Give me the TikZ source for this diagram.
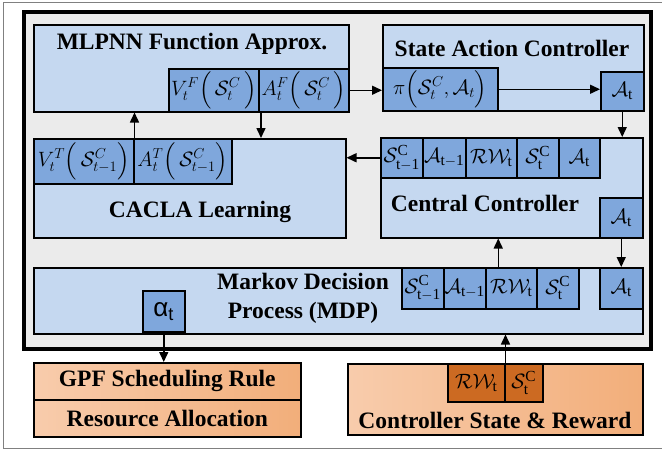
\documentclass[tikz,border=0pt]{standalone}
\usepackage{amsmath}
\usepackage{fontspec}
\setmainfont{Liberation Serif}
\newfontfamily\greeksans{Liberation Sans}
\usetikzlibrary{arrows.meta}

\definecolor{panelblue}{HTML}{C5D8F0}
\definecolor{cellblue}{HTML}{7FA7DC}
\definecolor{framegray}{HTML}{EBEBEB}
\definecolor{orangelt}{HTML}{F8CCAC}
\definecolor{orangedk}{HTML}{F2AE7A}
\definecolor{cellorange}{HTML}{CC6A22}

\tikzset{
  panel/.style={draw, line width=1.5pt, fill=panelblue, inner sep=0pt, anchor=north west},
  cell/.style={draw, line width=1.5pt, fill=cellblue, inner sep=0pt, anchor=north west, font=\fontsize{22}{24}\selectfont},
  ocell/.style={cell, fill=cellorange},
  opanel/.style={draw, line width=1.5pt, left color=orangelt, right color=orangedk, inner sep=0pt, anchor=north west, font=\bfseries\fontsize{23.5}{26}\selectfont},
  title/.style={font=\bfseries\fontsize{23.5}{29}\selectfont, align=center},
  arr/.style={line width=1.5pt, -{Stealth[length=10pt,width=9pt,inset=0pt]}},
}

\begin{document}
\begin{tikzpicture}[x=1pt, y=-1pt]
    \useasboundingbox (0,0) rectangle (662,451);
    % frames
    \draw[gray, line width=0.8pt] (3,2) rectangle (668,448);
    \draw[line width=3.5pt, fill=framegray] (24,12) rectangle (651,349);

    % MLPNN
    \node[panel, minimum width=315pt, minimum height=87pt] (mlp) at (33,24) {};
    \node[title] (mlplbl) at (192,44) {MLPNN Function Approx.};
    \node[cell, minimum width=90pt, minimum height=43pt] (vF) at (168,68) {$V_t^{F}\Big(\,\mathcal{S}_t^{C}\,\Big)$};
    \node[cell, minimum width=90pt, minimum height=43pt] (aF) at (258,68) {$A_t^{F}\Big(\,\mathcal{S}_t^{C}\,\Big)$};

    % state action controller
    \node[panel, minimum width=261pt, minimum height=86pt] (sac) at (382,24) {};
    \node[title] (saclbl) at (512,48) {State Action Controller};
    \node[cell, minimum width=115pt, minimum height=43pt] (pi) at (382,67) {$\pi\Big(\mathcal{S}_t^{C},\mathcal{A}_t\Big)$};
    \node[cell, minimum width=43pt, minimum height=39pt] (at1) at (600,71) {$\mathcal{A}_{\mathrm{t}}$};

    % central controller
    \node[panel, minimum width=262pt, minimum height=100pt] (cen) at (380,137) {};
    \node[title] (cenlbl) at (485,203) {Central Controller};
    \node[cell, minimum width=42pt, minimum height=40pt] (cs1) at (380,137) {$\mathcal{S}^{\mathrm{C}}_{\mathrm{t-1}}$};
    \node[cell, minimum width=43pt, minimum height=40pt] (ca1) at (422,137) {$\mathcal{A}_{\mathrm{t-1}}$};
    \node[cell, minimum width=51pt, minimum height=40pt] (crw) at (465,137) {$\mathcal{RW}_{\!\mathrm{t}}$};
    \node[cell, minimum width=42pt, minimum height=40pt] (cs2) at (516,137) {$\mathcal{S}^{\mathrm{C}}_{\mathrm{t}}$};
    \node[cell, minimum width=41pt, minimum height=40pt] (ca2) at (558,137) {$\mathcal{A}_{\mathrm{t}}$};
    \node[cell, minimum width=43pt, minimum height=40pt] (at2) at (599,197) {$\mathcal{A}_{\mathrm{t}}$};

    % CACLA
    \node[panel, minimum width=312pt, minimum height=99pt] (cacla) at (33,138) {};
    \node[title] (caclalbl) at (200,212) {CACLA Learning};
    \node[cell, minimum width=100pt, minimum height=45pt] (vT) at (33,138) {$V_t^{T}\Big(\,\mathcal{S}_{t-1}^{C}\Big)$};
    \node[cell, minimum width=98pt, minimum height=45pt] (aT) at (133,138) {$A_t^{T}\Big(\,\mathcal{S}_{t-1}^{C}\Big)$};

    % MDP
    \node[panel, minimum width=609pt, minimum height=66pt] (mdp) at (33,267) {};
    \node[title] (mdplbl) at (303,298) {Markov Decision\\Process (MDP)};
    \node[cell, minimum width=42pt, minimum height=41pt] (ms1) at (401,267) {$\mathcal{S}^{\mathrm{C}}_{\mathrm{t-1}}$};
    \node[cell, minimum width=42pt, minimum height=41pt] (ma1) at (443,267) {$\mathcal{A}_{\mathrm{t-1}}$};
    \node[cell, minimum width=51pt, minimum height=41pt] (mrw) at (485,267) {$\mathcal{RW}_{\!\mathrm{t}}$};
    \node[cell, minimum width=42pt, minimum height=41pt] (ms2) at (536,267) {$\mathcal{S}^{\mathrm{C}}_{\mathrm{t}}$};
    \node[cell, minimum width=43pt, minimum height=41pt] (at3) at (599,267) {$\mathcal{A}_{\mathrm{t}}$};
    \node[cell, minimum width=42pt, minimum height=41pt] (alpha) at (142,290) {{\greeksans\fontsize{26}{28}\selectfont α\textsubscript{t}}};

    % outside the frame
    \node[opanel, minimum width=267pt, minimum height=37pt] (gpf) at (33,362) {GPF Scheduling Rule};
    \node[opanel, minimum width=267pt, minimum height=37pt] (res) at (33,399) {Resource Allocation};
    \node[opanel, minimum width=295pt, minimum height=71pt] (csr) at (347,363) {};
    \node[title] (csrlbl) at (495,420) {Controller State \& Reward};
    \node[ocell, minimum width=57pt, minimum height=38pt] (orw) at (447,363) {$\mathcal{RW}_{\!\mathrm{t}}$};
    \node[ocell, minimum width=38pt, minimum height=38pt] (os) at (504,363) {$\mathcal{S}^{\mathrm{C}}_{\mathrm{t}}$};

    % connectors
    \draw[arr] (aF.east) -- (aF.east -| pi.west);
    \draw[arr] (pi.east) -- (pi.east -| at1.west);
    \draw[arr] (at1.south) -- (at1.south |- cen.north);
    \draw[arr] (cs1.west) -- (cs1.west -| cacla.east);
    \draw[arr] (vT.north east) -- (vT.north east |- mlp.south);
    \draw[arr] ([xshift=3pt]aF.south west) -- ([xshift=3pt]aF.south west |- cacla.north);
    \draw[arr] (at2.south) -- (at2.south |- at3.north);
    \draw[arr] ([xshift=-13pt]mrw.north) -- ([xshift=-13pt]mrw.north |- cen.south);
    \draw[arr] (orw.north east) -- (orw.north east |- mdp.south);
    \draw[arr] (alpha.south) -- (alpha.south |- gpf.north);
\end{tikzpicture}
\end{document}
